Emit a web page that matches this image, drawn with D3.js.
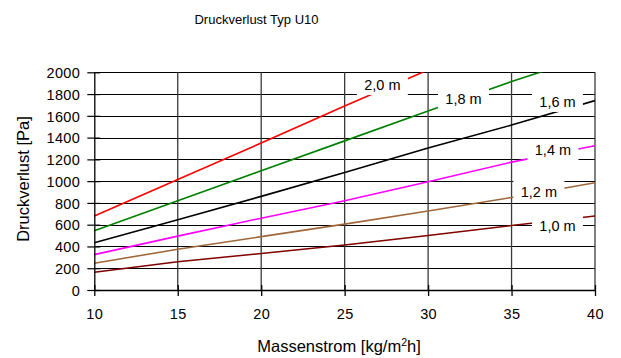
<!DOCTYPE html>
<html>
<head>
<meta charset="utf-8">
<script src="https://cdn.jsdelivr.net/npm/d3@7"></script>
<style>
  html, body { margin: 0; padding: 0; background: #fff; }
  svg { display: block; }
  text { font-family: "Liberation Sans", Arial, sans-serif; fill: #000; }
</style>
</head>
<body>
<svg id="chart" width="621" height="358"></svg>
<script>
// ---- data ----
const massFlow = [10, 15, 20, 25, 30, 35, 40];
const seriesNames = ["2,0 m", "1,8 m", "1,6 m", "1,4 m", "1,2 m", "1,0 m"];
const loss20 = [680, 1015, 1350, 1690, 2022, null, null];
const loss18 = [545, 820, 1095, 1370, 1645, 1915, 2165];
const loss16 = [435, 645, 860, 1080, 1305, 1515, 1740];
const loss14 = [325, 495, 660, 820, 995, 1175, 1325];
const loss12 = [245, 375, 490, 605, 725, 850, 985];
const loss10 = [163, 260, 335, 413, 500, 592, 680];
const xTicks = [10, 15, 20, 25, 30, 35, 40];
const yTicks = [0, 200, 400, 600, 800, 1000, 1200, 1400, 1600, 1800, 2000];
// label anchors in data units (mass flow, pressure loss)
const labelX = [27.26, 32.12, 37.75, 37.48, 36.64, 37.75];
const labelY = [1888, 1759, 1732, 1286, 905, 593];

const colors = ["#ff0000", "#008000", "#000000", "#ff00ff", "#a0673a", "#800000"];
const allSeries = [loss20, loss18, loss16, loss14, loss12, loss10];

const svg = d3.select("#chart");
const x = d3.scaleLinear().domain([10, 40]).range([94.3, 595]);
const y = d3.scaleLinear().domain([0, 2000]).range([290, 72.3]);

// title
svg.append("text").attr("x", 256.5).attr("y", 23.5)
  .attr("text-anchor", "middle").style("font-size", "13px")
  .text("Druckverlust Typ U10");

// clip
svg.append("clipPath").attr("id", "plotclip")
  .append("rect").attr("x", x(10)).attr("y", y(2000))
  .attr("width", x(40) - x(10)).attr("height", y(0) - y(2000));

// grid
const grid = svg.append("g");
grid.selectAll("line.h").data(yTicks.filter(d => d > 0)).join("line")
  .attr("x1", x(10)).attr("x2", x(40))
  .attr("y1", d => Math.round(y(d)) + 0.5).attr("y2", d => Math.round(y(d)) + 0.5)
  .attr("stroke", "#000").attr("stroke-width", 1);
grid.selectAll("line.v").data(xTicks.filter(d => d > 10)).join("line")
  .attr("x1", d => x(d)).attr("x2", d => x(d))
  .attr("y1", y(2000)).attr("y2", y(0))
  .attr("stroke", "#3a3a3a").attr("stroke-width", 1.3);

// series lines
const line = d3.line()
  .defined(d => d[1] != null)
  .x(d => x(d[0])).y(d => y(d[1]));
const lineG = svg.append("g").attr("clip-path", "url(#plotclip)");
allSeries.forEach((vals, i) => {
  lineG.append("path")
    .datum(massFlow.map((m, j) => [m, vals[j]]))
    .attr("d", line)
    .attr("fill", "none")
    .attr("stroke", colors[i])
    .attr("stroke-width", 1.6);
});

// axes
const xAxis = d3.axisBottom(x).tickValues(xTicks).tickSize(0).tickPadding(0).tickFormat(d3.format("d"));
const gx = svg.append("g").attr("transform", `translate(0,${y(0)})`).call(xAxis);
gx.select(".domain").attr("stroke", "#000").attr("stroke-width", 1.3);
gx.selectAll(".tick line").attr("y1", -5).attr("y2", 6).attr("stroke", "#000").attr("stroke-width", 1.3);
gx.selectAll(".tick text").attr("y", 19).attr("dy", "0.71em")
  .style("font-size", "14.5px").style("font-family", "Liberation Sans, Arial, sans-serif")
  .attr("fill", "#000").attr("letter-spacing", "0.4");

const yAxis = d3.axisLeft(y).tickValues(yTicks).tickSize(0).tickPadding(0).tickFormat(d3.format("d"));
const gy = svg.append("g").attr("transform", `translate(${x(10)},0)`).call(yAxis);
gy.select(".domain").attr("stroke", "#000").attr("stroke-width", 1.3);
gy.selectAll(".tick line").attr("x1", -7).attr("x2", 6).attr("stroke", "#000").attr("stroke-width", 1.2);
gy.selectAll(".tick text").attr("x", -14).attr("dy", "0.36em")
  .style("font-size", "14.5px").style("font-family", "Liberation Sans, Arial, sans-serif")
  .attr("fill", "#000").attr("letter-spacing", "0.4");

// series labels (white boxes)
const labG = svg.append("g");
seriesNames.forEach((name, i) => {
  const cx = x(labelX[i]), cy = y(labelY[i]);
  labG.append("rect").attr("x", cx - 25.5).attr("y", cy - 10.5)
    .attr("width", 51).attr("height", 21).attr("fill", "#fff");
  labG.append("text").attr("x", cx).attr("y", cy).attr("dy", "0.36em")
    .attr("text-anchor", "middle").style("font-size", "14.5px")
    .text(name);
});

// axis titles
const xt = svg.append("text").attr("x", 339).attr("y", 352)
  .attr("text-anchor", "middle").style("font-size", "16.5px");
xt.append("tspan").text("Massenstrom [kg/m");
xt.append("tspan").attr("dy", -6).style("font-size", "10.5px").text("2");
xt.append("tspan").attr("dy", 6).text("h]");

svg.append("text").attr("transform", "translate(23,179) rotate(-90)")
  .attr("dy", "0.36em").attr("text-anchor", "middle").style("font-size", "16.5px")
  .text("Druckverlust [Pa]");
</script>
</body>
</html>
